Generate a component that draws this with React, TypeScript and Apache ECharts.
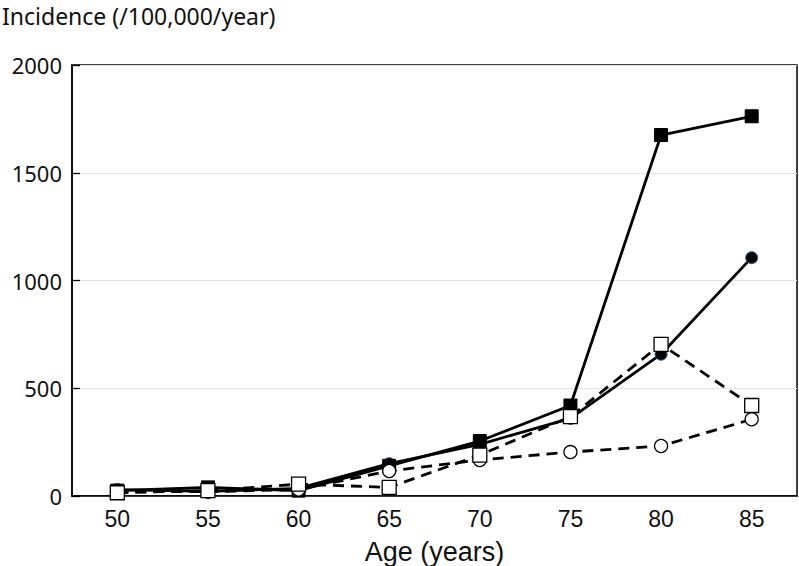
import React, { useEffect, useRef } from "react";
import * as echarts from "echarts";

const ages = ["50", "55", "60", "65", "70", "75", "80", "85"];
const solidSquare = [25, 40, 25, 140, 255, 420, 1675, 1762];
const solidCircle = [30, 22, 35, 150, 240, 360, 658, 1106];
const dashedSquare = [15, 25, 55, 40, 190, 368, 704, 420];
const dashedCircle = [20, 20, 30, 116, 167, 204, 232, 356];
const yTicks = { min: 0, max: 2000, interval: 500 };

export default function App() {
  const ref = useRef<HTMLDivElement>(null);
  useEffect(() => {
    const chart = echarts.init(ref.current!, null, { renderer: "svg" });
    const lineBase = (name: string, data: number[], symbol: string, size: number, filled: boolean, dashed: boolean) => ({
      name,
      type: "line",
      data,
      symbol,
      symbolSize: size,
      showAllSymbol: true,
      lineStyle: { color: "#000", width: 2.8, type: dashed ? [11, 7] : "solid" },
      itemStyle: filled
        ? { color: "#000", borderColor: symbol === "circle" ? "#2a5d8f" : "#000", borderWidth: 1 }
        : { color: "#fff", borderColor: "#000", borderWidth: 1.3 },
      emphasis: { disabled: true },
    });
    chart.setOption({
      animation: false,
      textStyle: { fontFamily: "Noto Sans" },
      grid: {
        left: 72, right: 2, top: 65, bottom: 70,
        containLabel: false, outerBoundsMode: "none",
        show: true, borderColor: "#000", borderWidth: 1.5,
      },
      xAxis: {
        type: "category",
        data: ages,
        boundaryGap: true,
        name: "Age (years)",
        nameLocation: "middle",
        nameGap: 42,
        nameMoveOverlap: false,
        nameTextStyle: { fontFamily: "Liberation Sans", fontSize: 27, color: "#111" },
        axisLine: { lineStyle: { color: "#000", width: 1.5 } },
        axisTick: { inside: true, length: 8, lineStyle: { color: "#000", width: 1.3 } },
        axisLabel: { fontFamily: "Liberation Sans", fontSize: 23, color: "#111", margin: 11 },
        splitLine: { show: false },
      },
      yAxis: {
        type: "value",
        min: yTicks.min,
        max: yTicks.max,
        interval: yTicks.interval,
        axisLine: { show: true, lineStyle: { color: "#000", width: 1.5 } },
        axisTick: { show: true, inside: true, length: 8, lineStyle: { color: "#000", width: 1.3 } },
        axisLabel: { fontFamily: "Noto Sans", fontSize: 22, color: "#111", margin: 10, formatter: (v: number) => String(v) },
        splitLine: { show: true, lineStyle: { color: "#dde3e6", width: 1 } },
      },
      graphic: [
        {
          type: "text",
          left: 2,
          top: 4,
          style: { text: "Incidence (/100,000/year)", fontFamily: "Noto Sans", fontSize: 23, fill: "#111" },
        },
      ],
      series: [
        lineBase("solidCircle", solidCircle, "circle", 12, true, false),
        lineBase("solidSquare", solidSquare, "rect", 13, true, false),
        lineBase("dashedCircle", dashedCircle, "circle", 13, false, true),
        lineBase("dashedSquare", dashedSquare, "rect", 14, false, true),
      ],
    });
    return () => chart.dispose();
  }, []);
  return <div ref={ref} style={{ position: "fixed", left: 0, top: 0, width: 799, height: 566, background: "#fff" }} />;
}
